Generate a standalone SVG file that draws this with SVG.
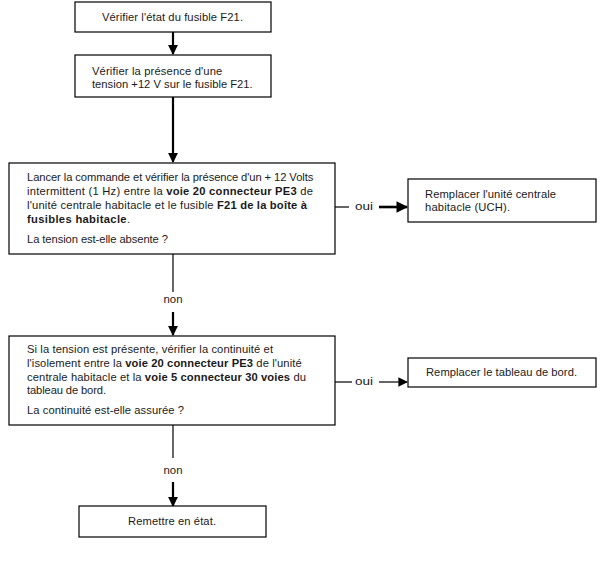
<svg xmlns="http://www.w3.org/2000/svg" width="607" height="569" viewBox="0 0 607 569">
<style>
.box{fill:#fff;stroke:#000;stroke-width:1.2}
.t{font-family:"Liberation Sans",Arial,sans-serif;font-size:11.2px;fill:#1a1a1a}
.b{font-weight:bold}
.c{text-anchor:middle}
.ln{stroke:#000;stroke-width:1.2;fill:none}
.th{stroke:#000;stroke-width:2.2;fill:none}
</style>
<defs>
<marker id="ah" viewBox="0 0 10 10" refX="9" refY="5" markerWidth="4.5" markerHeight="4.5" orient="auto" markerUnits="strokeWidth">
<path d="M0,0 L10,5 L0,10 z" fill="#000"/>
</marker>
<marker id="ah2" viewBox="0 0 10 10" refX="9" refY="5" markerWidth="8" markerHeight="8" orient="auto" markerUnits="strokeWidth">
<path d="M0,0 L10,5 L0,10 z" fill="#000"/>
</marker>
</defs>
<rect width="607" height="569" fill="#fff"/>
<g id="connectors">
<line class="th" x1="173" y1="32" x2="173" y2="54" marker-end="url(#ah)"/>
<line class="th" x1="173" y1="97" x2="173" y2="162" marker-end="url(#ah)"/>
<line class="ln" x1="335" y1="207" x2="349" y2="207"/>
<text class="t" x="355" y="210" textLength="18" lengthAdjust="spacingAndGlyphs">oui</text>
<line x1="379" y1="207" x2="407" y2="207" stroke="#000" stroke-width="2.6" marker-end="url(#ah)"/>
<line class="ln" x1="173" y1="254" x2="173" y2="292"/>
<text class="t" x="163.5" y="303" textLength="19" lengthAdjust="spacingAndGlyphs">non</text>
<line class="th" x1="173" y1="312" x2="173" y2="335" marker-end="url(#ah)"/>
<line class="ln" x1="335" y1="382" x2="352" y2="382"/>
<text class="t" x="355" y="385" textLength="18" lengthAdjust="spacingAndGlyphs">oui</text>
<line class="ln" x1="379" y1="382" x2="407" y2="382" marker-end="url(#ah2)"/>
<line class="ln" x1="173" y1="425" x2="173" y2="458"/>
<text class="t" x="163.5" y="474" textLength="19" lengthAdjust="spacingAndGlyphs">non</text>
<line class="th" x1="173" y1="482" x2="173" y2="506" marker-end="url(#ah)"/>
</g>
<g id="n1">
<rect class="box" x="75" y="2" width="196" height="30"/>
<text class="t" x="102" y="20.5" textLength="141">Vérifier l'état du fusible F21.</text>
</g>
<g id="n2">
<rect class="box" x="75" y="55" width="196" height="42"/>
<text class="t" x="92" y="74.5" textLength="130.3">Vérifier la présence d'une</text>
<text class="t" x="92" y="87.5" textLength="160.7">tension +12 V sur le fusible F21.</text>
</g>
<g id="n3">
<rect class="box" x="9" y="163" width="326" height="91"/>
<text class="t" x="27" y="181" textLength="286.3">Lancer la commande et vérifier la présence d'un + 12 Volts</text>
<text class="t" x="27" y="195" textLength="286">intermittent (1 Hz) entre la <tspan class="b">voie 20 connecteur PE3</tspan> de</text>
<text class="t" x="27" y="209" textLength="280">l'unité centrale habitacle et le fusible <tspan class="b">F21 de la boîte à</tspan></text>
<text class="t" x="27" y="223" textLength="103"><tspan class="b">fusibles habitacle</tspan>.</text>
<text class="t" x="27" y="243" textLength="141">La tension est-elle absente ?</text>
</g>
<g id="n4">
<rect class="box" x="408" y="179" width="188" height="43"/>
<text class="t" x="425" y="198" textLength="131">Remplacer l'unité centrale</text>
<text class="t" x="425" y="211" textLength="85">habitacle (UCH).</text>
</g>
<g id="n5">
<rect class="box" x="9" y="336" width="326" height="89"/>
<text class="t" x="27" y="353" textLength="246">Si la tension est présente, vérifier la continuité et</text>
<text class="t" x="27" y="367" textLength="274.7">l'isolement entre la <tspan class="b">voie 20 connecteur PE3</tspan> de l'unité</text>
<text class="t" x="27" y="380.5" textLength="279">centrale habitacle et la <tspan class="b">voie 5 connecteur 30 voies</tspan> du</text>
<text class="t" x="27" y="394" textLength="79">tableau de bord.</text>
<text class="t" x="27" y="414" textLength="157">La continuité est-elle assurée ?</text>
</g>
<g id="n6">
<rect class="box" x="408" y="358" width="188" height="29"/>
<text class="t" x="426" y="376" textLength="151">Remplacer le tableau de bord.</text>
</g>
<g id="n7">
<rect class="box" x="79" y="506" width="187" height="31"/>
<text class="t" x="128" y="525" textLength="88">Remettre en état.</text>
</g>
</svg>
